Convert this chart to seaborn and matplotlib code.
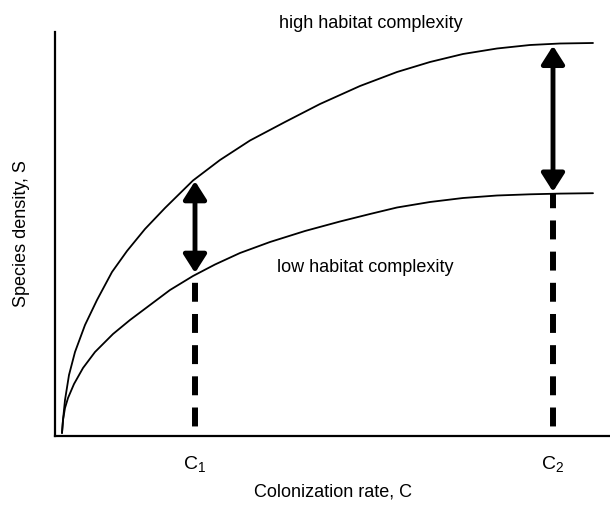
import matplotlib
matplotlib.use("Agg")
import matplotlib.pyplot as plt
from matplotlib.patches import FancyArrowPatch
import seaborn as sns
import pandas as pd

# curves (arbitrary units, roughly one unit per pixel)
high_x = [7, 8, 10, 14, 20, 30, 42, 57, 72, 90, 110, 138, 165, 195, 230, 265, 305, 342, 375, 408, 442, 475, 505, 538]
high_y = [3, 16, 36, 61, 84, 111, 136, 164, 185, 207, 228, 255.5, 276, 295.5, 314, 332, 350, 364, 374, 382, 387.5, 391, 392.5, 393]
low_x = [7, 8, 10, 13, 19, 28, 40, 58, 75, 95, 115, 138, 160, 185, 215, 250, 285, 315, 342, 375, 408, 442, 475, 505, 538]
low_y = [3, 16, 28, 38, 52, 68, 84, 102, 116, 131, 146, 160, 171.5, 183, 194, 205, 214.5, 222, 228.5, 234, 238, 240.5, 241.7, 242.4, 242.8]

c_pos = [140, 498]
c_labels = [r"$\mathregular{C_1}$", r"$\mathregular{C_2}$"]
high_at_c = [257, 392.3]
low_at_c = [161, 242.2]

sns.set_theme(style="white")
plt.rcParams['font.family'] = ['Liberation Sans', 'DejaVu Sans']
plt.rcParams['mathtext.fontset'] = 'custom'
plt.rcParams['mathtext.rm'] = 'Liberation Sans'
plt.rcParams['text.color'] = 'black'
plt.rcParams['axes.labelcolor'] = 'black'
plt.rcParams['xtick.color'] = 'black'

df = pd.DataFrame({
    "x": high_x + low_x,
    "y": high_y + low_y,
    "habitat": ["high"] * len(high_x) + ["low"] * len(low_x),
})

fig = plt.figure(figsize=(6.1, 5.13), dpi=100)
ax = fig.add_axes([55 / 610, 77 / 513, 555 / 610, 404 / 513])

sns.lineplot(data=df, x="x", y="y", units="habitat", estimator=None, sort=False,
             color="black", linewidth=1.3, ax=ax)

# dashed drop lines from the axis up to the low curve
for c, lo in zip(c_pos, low_at_c):
    ax.plot([c, c], [0, lo], color="black", linewidth=4.3,
            linestyle=(3.62, (3.17, 2.05)), solid_capstyle="butt")

# double arrows between the two curves
for c, lo, hi in zip(c_pos, low_at_c, high_at_c):
    arr = FancyArrowPatch((c, lo), (c, hi), arrowstyle="<|-|>,head_length=0.55,head_width=0.35",
                          mutation_scale=20, linewidth=3.5, color="black",
                          shrinkA=1.5, shrinkB=1.5)
    ax.add_patch(arr)

ax.text(224, 413, "high habitat complexity", fontsize=13, ha="left", va="center", clip_on=False)
ax.text(222, 168, "low habitat complexity", fontsize=13, ha="left", va="center")

ax.set_xlim(0, 555)
ax.set_ylim(0, 404)
ax.set_xticks(c_pos)
ax.set_xticklabels(c_labels, fontsize=14)
ax.set_yticks([])
ax.tick_params(axis="x", length=0, pad=13)
ax.set_xlabel("Colonization rate, C", fontsize=13, labelpad=7)
ax.set_ylabel("Species density, S", fontsize=13, labelpad=18)

sns.despine(ax=ax)
for side in ["left", "bottom"]:
    ax.spines[side].set_linewidth(1.6)
    ax.spines[side].set_color("black")

fig.savefig("out.png", dpi=100)
